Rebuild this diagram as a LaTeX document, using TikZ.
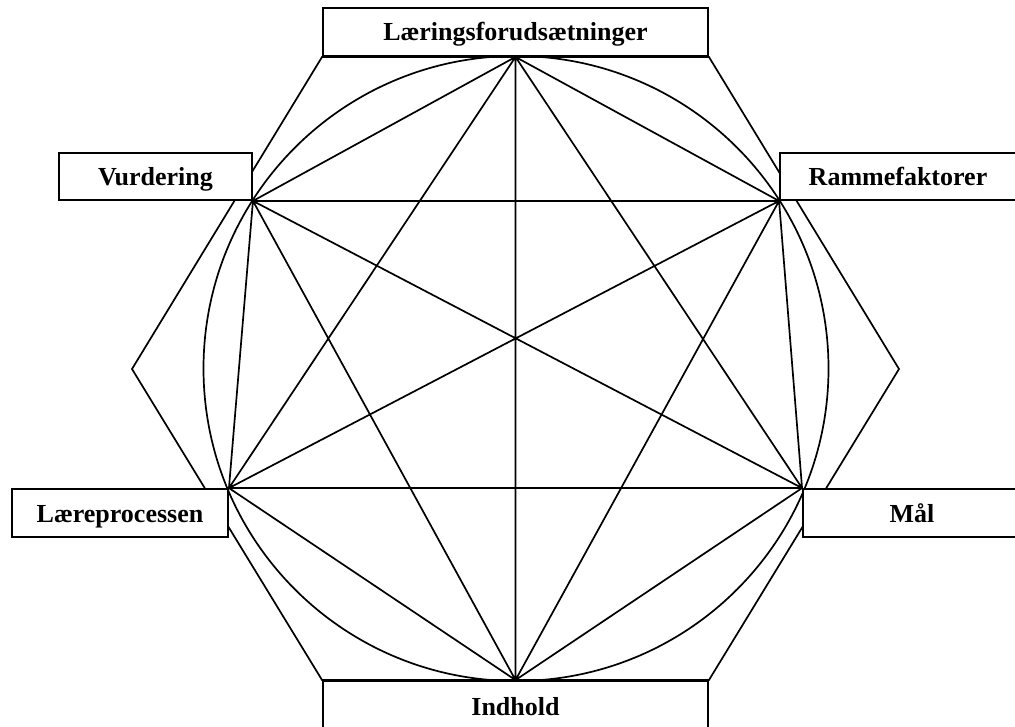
\documentclass[tikz,border=0pt]{standalone}
\usepackage{fontspec}
\setmainfont{Liberation Serif}
\begin{document}
\begin{tikzpicture}[x=1pt,y=-1pt,
  ln/.style={line width=1.7pt, line join=miter},
  lbox/.style={draw, line width=1.9pt, fill=white, inner sep=0pt,
    text height=20pt, text depth=2pt,
    font=\fontsize{26}{30}\selectfont\bfseries}]
\useasboundingbox (0,0) rectangle (1015,727);
\clip (0,0) rectangle (1015,727);
% box frames (placed first to get anchors; drawn again on top)
\path
  (515.5,32) node[lbox, minimum width=385pt, minimum height=48pt, draw=none, fill=none] (top) {}
  (155.5,176.5) node[lbox, minimum width=193pt, minimum height=47pt, draw=none, fill=none] (vur) {}
  (898,176.5) node[lbox, minimum width=236pt, minimum height=47pt, draw=none, fill=none] (ram) {}
  (120,513) node[lbox, minimum width=216pt, minimum height=48pt, draw=none, fill=none] (lae) {}
  (912,513) node[lbox, minimum width=218pt, minimum height=48pt, draw=none, fill=none] (maal) {}
  (515.5,706) node[lbox, minimum width=385pt, minimum height=50pt, draw=none, fill=none] (ind) {};
\coordinate (L) at (top.south);
\coordinate (V) at (vur.south east);
\coordinate (R) at (ram.south west);
\coordinate (P) at (lae.north east);
\coordinate (M) at (maal.north west);
\coordinate (I) at (ind.north);
\coordinate (HL) at (132,369);
\coordinate (HR) at (899,369);
\coordinate (C) at (516,368.5);
% outer hexagon
\draw[ln] (top.south west) -- (top.south east) -- (HR) -- (ind.north east)
  -- (ind.north west) -- (HL) -- cycle;
% circle
\draw[ln] (C) circle[radius=312.5];
% complete graph
\draw[ln] (L) -- (R) (L) -- (M) (L) -- (I) (L) -- (P) (L) -- (V)
  (R) -- (M) (R) -- (I) (R) -- (P) (R) -- (V)
  (M) -- (I) (M) -- (P) (M) -- (V)
  (I) -- (P) (I) -- (V)
  (P) -- (V);
% boxes on top
\node[lbox, minimum width=385pt, minimum height=48pt] (topb) at (top) {Læringsforudsætninger};
\node[lbox, minimum width=193pt, minimum height=47pt] (vurb) at (vur) {Vurdering};
\node[lbox, minimum width=236pt, minimum height=47pt] (ramb) at (ram) {Rammefaktorer};
\node[lbox, minimum width=216pt, minimum height=48pt] (laeb) at (lae) {Læreprocessen};
\node[lbox, minimum width=218pt, minimum height=48pt] (maalb) at (maal) {Mål};
\node[lbox, minimum width=385pt, minimum height=50pt] (indb) at (ind) {Indhold};
\end{tikzpicture}
\end{document}
